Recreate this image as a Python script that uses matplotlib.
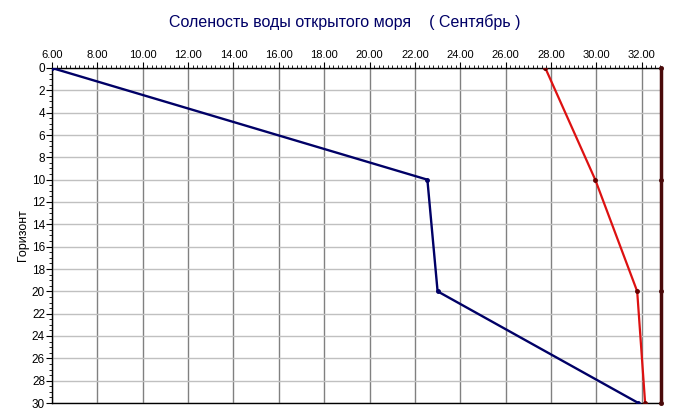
import matplotlib
matplotlib.use("Agg")
import matplotlib.pyplot as plt
from matplotlib.ticker import MultipleLocator, FormatStrFormatter

plt.rcParams['font.family'] = ['Liberation Sans', 'DejaVu Sans']

depth = [0, 10, 20, 30]
series_blue = [6.0, 22.55, 23.0, 31.85]
series_red = [27.75, 29.95, 31.8, 32.15]
series_edge = [32.85, 32.85, 32.85, 32.85]
x_min, x_max = 6.0, 32.85

fig = plt.figure(figsize=(6.75, 4.19), dpi=100)
ax = fig.add_axes([52/675, 1-403/419, (661-52)/675, (403-68)/419])

ax.plot(series_blue, depth, color='#000066', lw=1.7, marker='o', ms=2.5, zorder=3)
ax.plot(series_red, depth, color='#dd1111', lw=1.6, marker='o', ms=2.5, mfc='#660000', mec='#660000', zorder=3)
ax.plot(series_edge, depth, color='#4a0a0a', lw=2.5, marker='o', ms=2.5, zorder=4, clip_on=False)

ax.set_xlim(x_min, x_max)
ax.set_ylim(30, 0)
ax.xaxis.tick_top()
ax.xaxis.set_major_locator(MultipleLocator(2))
ax.xaxis.set_minor_locator(MultipleLocator(0.2))
ax.xaxis.set_major_formatter(FormatStrFormatter('%.2f'))
ax.yaxis.set_major_locator(MultipleLocator(2))
ax.yaxis.set_minor_locator(MultipleLocator(0.5))

ax.grid(True, axis='x', which='major', color='#808080', lw=1)
ax.grid(True, axis='y', which='major', color='#c0c0c0', lw=1)
ax.set_axisbelow(True)

ax.tick_params(axis='x', which='major', direction='out', length=4, labelsize=8, pad=2, top=True, bottom=False)
ax.tick_params(axis='x', which='minor', direction='out', length=2, top=True, bottom=False)
ax.tick_params(axis='y', which='major', direction='out', length=4, labelsize=8.5, pad=1)
ax.tick_params(axis='y', which='minor', direction='out', length=2)

for s in ['left', 'top', 'bottom']:
    ax.spines[s].set_color('black')
    ax.spines[s].set_linewidth(1)
ax.spines['right'].set_visible(False)

ax.set_ylabel('Горизонт', fontsize=9, labelpad=2)
fig.text(345/675, 1-22/419, 'Соленость воды открытого моря    ( Сентябрь )',
         ha='center', va='center', fontsize=11.5, color='#000066')

fig.savefig('out.png', dpi=100)
